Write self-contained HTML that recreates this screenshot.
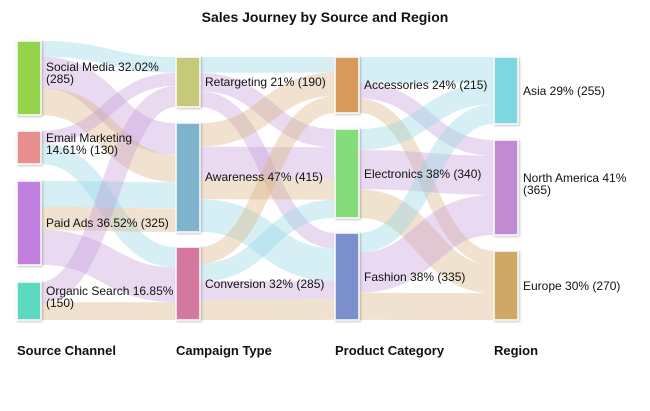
<!DOCTYPE html><html><head><meta charset="utf-8"><style>
body{margin:0;background:#fff;width:650px;height:406px;overflow:hidden;font-family:"Liberation Sans",sans-serif}
text{font-family:"Liberation Sans",sans-serif}
</style></head><body>
<svg id="s" width="650" height="406" xmlns="http://www.w3.org/2000/svg">
<text x="325" y="22" text-anchor="middle" font-size="14" font-weight="bold" fill="#111">Sales Journey by Source and Region</text>
<g id="L"></g><g id="N"></g>
<g font-size="12" fill="#111">
<text x="17" y="355" font-weight="bold" font-size="13">Source Channel</text>
<text x="176" y="355" font-weight="bold" font-size="13">Campaign Type</text>
<text x="335" y="355" font-weight="bold" font-size="13">Product Category</text>
<text x="494" y="355" font-weight="bold" font-size="13">Region</text>
<text x="46" y="71">Social Media 32.02%</text><text x="46" y="83">(285)</text>
<text x="46" y="142">Email Marketing</text><text x="46" y="154">14.61% (130)</text>
<text x="46" y="227">Paid Ads 36.52% (325)</text>
<text x="46" y="295">Organic Search 16.85%</text><text x="46" y="307">(150)</text>
<text x="205" y="86">Retargeting 21% (190)</text>
<text x="205" y="181">Awareness 47% (415)</text>
<text x="205" y="288">Conversion 32% (285)</text>
<text x="364" y="89">Accessories 24% (215)</text>
<text x="364" y="178">Electronics 38% (340)</text>
<text x="364" y="281">Fashion 38% (335)</text>
<text x="523" y="95">Asia 29% (255)</text>
<text x="523" y="182">North America 41%</text><text x="523" y="194">(365)</text>
<text x="523" y="290">Europe 30% (270)</text>
</g>
</svg>
<script>
var W=24;
var nodes={
so:[17,41,115,285,'#94d44a'],em:[17,131,164,130,'#e89090'],pa:[17,181,265,325,'#c080e0'],or:[17,282,320,150,'#5cd9c0'],
re:[176,57,107,190,'#c7c97a'],aw:[176,123,232,415,'#7db3cc'],co:[176,247,320,285,'#d478a0'],
ac:[335,57,113,215,'#d69a5a'],el:[335,129,218,340,'#85dc7a'],fa:[335,233,320,335,'#7b8fcc'],
as:[494,57,124,255,'#7dd6e0'],na:[494,140,235,365,'#c08bd0'],eu:[494,251,320,270,'#d0a865']};
var C={c:'rgba(150,215,230,0.4)',p:'rgba(195,150,215,0.35)',t:'rgba(215,180,125,0.38)'};
var links=[['so','re',60,'c'],['so','aw',120,'p'],['so','aw',105,'t'],['em','re',50,'p'],['em','co',80,'c'],
['pa','aw',100,'c'],['pa','aw',90,'t'],['pa','co',135,'p'],['or','re',80,'p'],['or','co',70,'t'],
['re','ac',60,'c'],['re','el',70,'p'],['re','fa',60,'p'],['aw','ac',90,'t'],['aw','el',120,'p'],['aw','el',80,'t'],['aw','fa',125,'c'],
['co','ac',65,'t'],['co','el',70,'c'],['co','fa',70,'p'],['co','fa',80,'t'],
['ac','as',100,'c'],['ac','na',60,'p'],['ac','eu',55,'t'],['el','as',80,'c'],['el','na',150,'p'],['el','eu',110,'t'],
['fa','as',75,'c'],['fa','na',155,'p'],['fa','eu',105,'t']];
var out={},inn={};for(var k in nodes){out[k]=nodes[k][1];inn[k]=nodes[k][1];}
var h='';
links.forEach(function(l){var a=nodes[l[0]],b=nodes[l[1]];
var sa=(a[2]-a[1])/a[3],sb=(b[2]-b[1])/b[3];
var y0=out[l[0]]+l[2]*sa/2,y1=inn[l[1]]+l[2]*sb/2,w=(l[2]*sa+l[2]*sb)/2;
out[l[0]]+=l[2]*sa;inn[l[1]]+=l[2]*sb;
var x0=a[0]+W,x1=b[0],m=(x0+x1)/2;
h+='<path d="M'+x0+' '+y0+'C'+m+' '+y0+' '+m+' '+y1+' '+x1+' '+y1+'" fill="none" stroke="'+C[l[3]]+'" stroke-width="'+w+'"/>';});
document.getElementById('L').innerHTML=h;
var n='';for(var k in nodes){var a=nodes[k];n+='<rect x="'+a[0]+'" y="'+a[1]+'" width="'+W+'" height="'+(a[2]-a[1])+'" fill="'+a[4]+'" stroke="#fff" stroke-width="1.5" style="filter:drop-shadow(1px 1px 1px rgba(0,0,0,0.25))"/>';}
document.getElementById('N').innerHTML=n;
</script>
</body></html>
